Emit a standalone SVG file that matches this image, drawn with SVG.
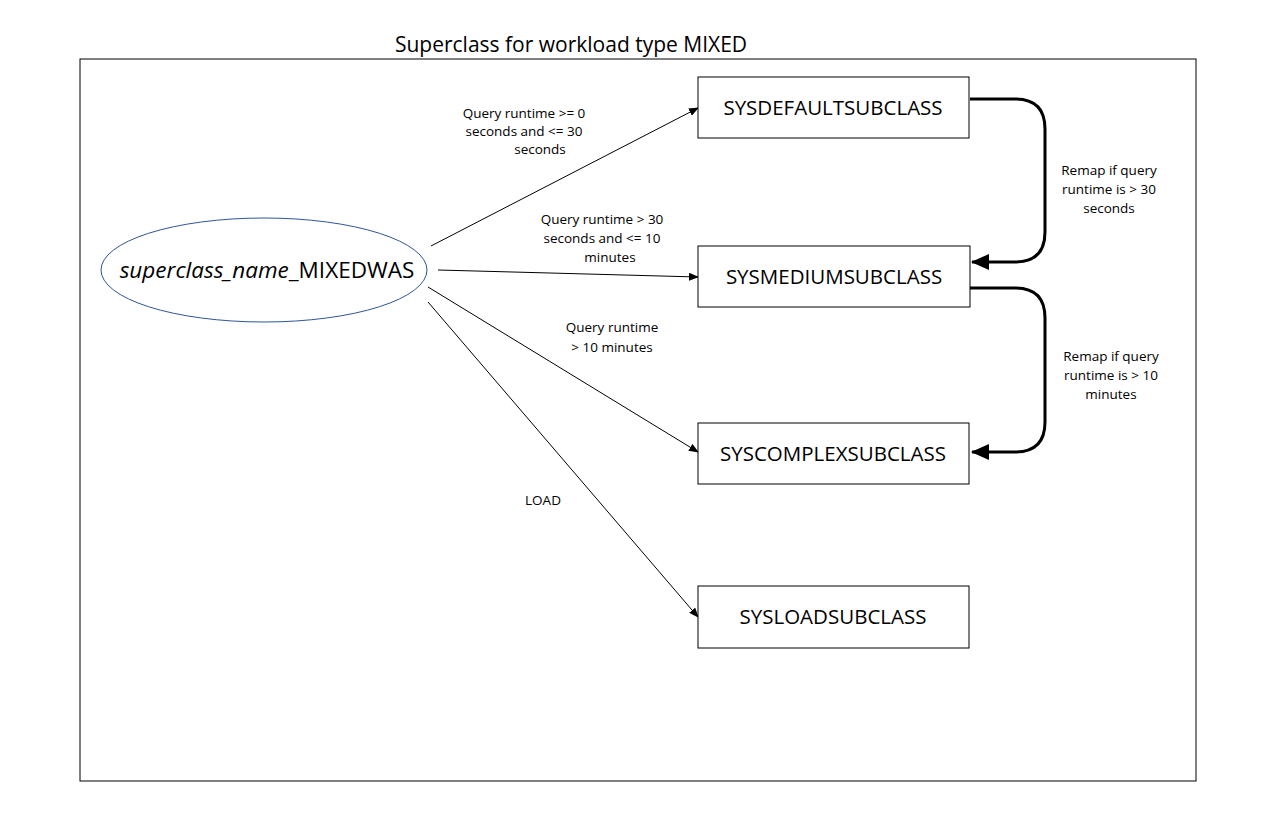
<svg xmlns="http://www.w3.org/2000/svg" width="1269" height="832" viewBox="0 0 1269 832">
<style>
text{font-family:"Open Sans","Liberation Sans",sans-serif;fill:#000}
.box{fill:#fff;stroke:#000;stroke-width:1}
.bt{font-size:20.5px;text-anchor:middle}
.lb{font-size:13.5px;text-anchor:middle}
.thin{stroke:#000;stroke-width:1;fill:none;marker-end:url(#a)}
.thick{stroke:#000;stroke-width:3;fill:none;marker-end:url(#b)}
</style>
<defs>
<marker id="a" markerWidth="10" markerHeight="8" refX="9" refY="4" orient="auto" markerUnits="userSpaceOnUse"><path d="M0,0 L10,4 L0,8 Z" fill="#000"/></marker>
<marker id="b" markerWidth="18" markerHeight="16" refX="17" refY="8" orient="auto" markerUnits="userSpaceOnUse"><path d="M0,0 L18,8 L0,16 Z" fill="#000"/></marker>
</defs>
<rect width="1269" height="832" fill="#fff"/>
<rect x="80" y="59" width="1116" height="722" fill="none" stroke="#000"/>
<text x="571" y="52" style="font-size:21px;text-anchor:middle">Superclass for workload type MIXED</text>
<g id="connectors">
<line class="thin" x1="431" y1="246" x2="698" y2="108"/>
<line class="thin" x1="438" y1="270" x2="698" y2="277"/>
<line class="thin" x1="428" y1="287" x2="698" y2="452"/>
<line class="thin" x1="428" y1="302" x2="698" y2="617"/>
<path class="thick" d="M970,99 H1015 Q1045,99 1045,129 V232 Q1045,262 1015,262 H972"/>
<path class="thick" d="M970,288 H1015 Q1045,288 1045,318 V422 Q1045,452 1015,452 H972"/>
<text class="lb" x="524" y="118">Query runtime &gt;= 0</text>
<text class="lb" x="524" y="136">seconds and &lt;= 30</text>
<text class="lb" x="540" y="154">seconds</text>
<text class="lb" x="602" y="224">Query runtime &gt; 30</text>
<text class="lb" x="602" y="243">seconds and &lt;= 10</text>
<text class="lb" x="610" y="262">minutes</text>
<text class="lb" x="612" y="332">Query runtime</text>
<text class="lb" x="612" y="352">&gt; 10 minutes</text>
<text class="lb" x="543" y="505">LOAD</text>
<text class="lb" x="1109" y="175">Remap if query</text>
<text class="lb" x="1109" y="194">runtime is &gt; 30</text>
<text class="lb" x="1109" y="213">seconds</text>
<text class="lb" x="1111" y="361">Remap if query</text>
<text class="lb" x="1111" y="380">runtime is &gt; 10</text>
<text class="lb" x="1111" y="399">minutes</text>
</g>
<g id="superclass">
<ellipse cx="264" cy="270" rx="163" ry="52" fill="#fff" stroke="#2F5597"/>
<text x="267" y="278" style="font-size:22.5px;text-anchor:middle"><tspan font-style="italic">superclass_name</tspan>_MIXEDWAS</text>
</g>
<g id="default"><rect class="box" x="698" y="77" width="271" height="61"/><text class="bt" x="833" y="115">SYSDEFAULTSUBCLASS</text></g>
<g id="medium"><rect class="box" x="698" y="246" width="272" height="61"/><text class="bt" x="834" y="284">SYSMEDIUMSUBCLASS</text></g>
<g id="complex"><rect class="box" x="698" y="423" width="271" height="61"/><text class="bt" x="833" y="461">SYSCOMPLEXSUBCLASS</text></g>
<g id="load"><rect class="box" x="698" y="586" width="271" height="62"/><text class="bt" x="833" y="624">SYSLOADSUBCLASS</text></g>
</svg>
